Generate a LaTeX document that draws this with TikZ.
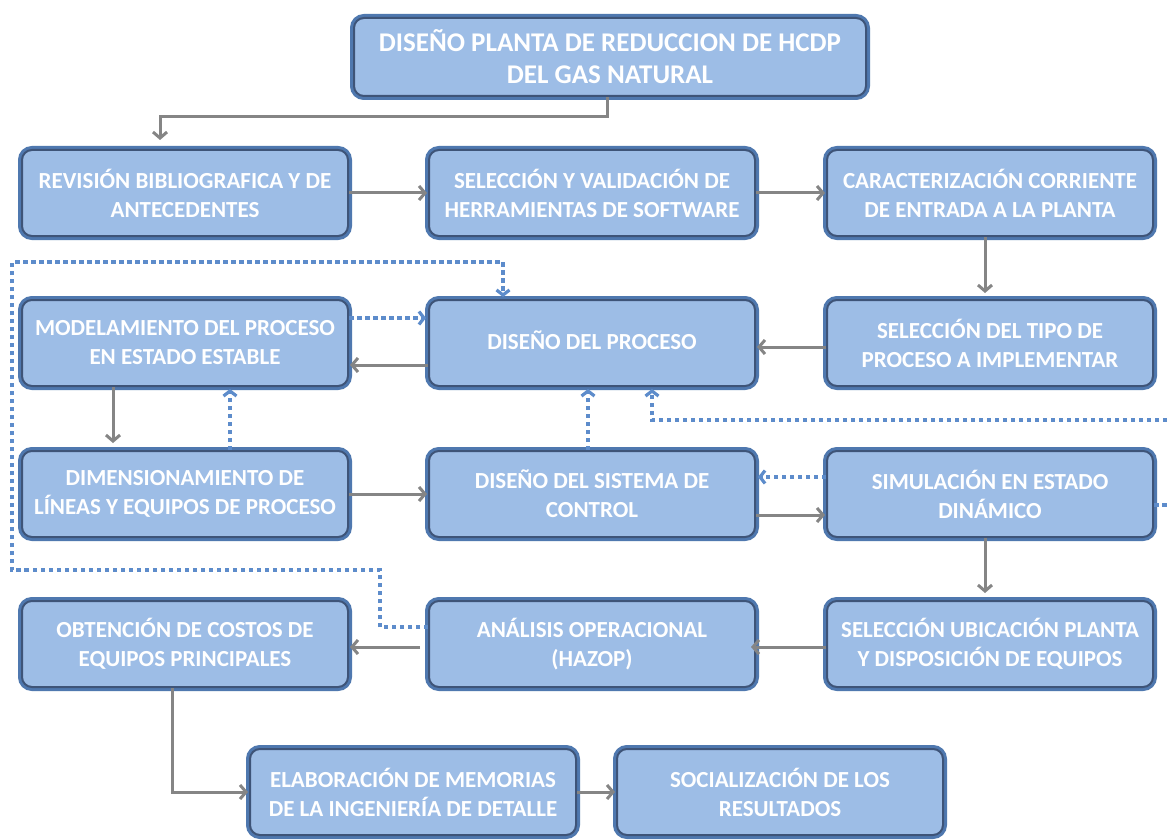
\documentclass[tikz,border=0pt]{standalone}
\usepackage{fontspec}
\setsansfont{Carlito}
\usetikzlibrary{arrows.meta, calc}
\definecolor{boxfill}{HTML}{9DBDE6}
\definecolor{boxline}{HTML}{4F78AF}
\definecolor{boxdark}{HTML}{3E5478}
\definecolor{flowgray}{HTML}{858585}
\definecolor{loopblue}{HTML}{5D8CCB}
\begin{document}
\begin{tikzpicture}[x=1pt, y=-1pt, semithick]
    \tikzset{stage/.style={rectangle, rounded corners=10pt, fill=boxfill, preaction={draw=boxline, line width=8pt}, draw=boxdark, line width=2pt, minimum width=326pt, minimum height=86pt, align=center, text=white, font=\sffamily\bfseries\fontsize{23}{29}\selectfont},
        flow/.style={draw=flowgray, line width=3pt, -{Straight Barb[length=6pt, width=14pt]}, shorten >=1pt},
        loop/.style={draw=loopblue, line width=3.2pt, dash pattern=on 4.5pt off 3.5pt, -{Straight Barb[length=5pt, width=13pt]}, shorten >=2pt}};
    \useasboundingbox[fill=white] (0,0) rectangle (1168,840);
    \node[stage, minimum width=512pt, minimum height=78pt, font=\sffamily\bfseries\fontsize{27}{32}\selectfont] (planta) at (610,57) {DISEÑO PLANTA DE REDUCCION DE HCDP\\DEL GAS NATURAL};
    \node[stage] (revision) at (185,193) {REVISIÓN BIBLIOGRAFICA Y DE\\ANTECEDENTES};
    \node[stage] (software) at (592,193) {SELECCIÓN Y VALIDACIÓN DE\\HERRAMIENTAS DE SOFTWARE};
    \node[stage] (corriente) at (990,193) {CARACTERIZACIÓN CORRIENTE\\DE ENTRADA A LA PLANTA};
    \node[stage] (modelo) at (185,343) {MODELAMIENTO DEL PROCESO\\EN ESTADO ESTABLE};
    \node[stage] (diseno) at (592,343) {\raisebox{6pt}{DISEÑO DEL PROCESO}};
    \node[stage] (tipo) at (990,343) {SELECCIÓN DEL TIPO DE\\PROCESO A IMPLEMENTAR};
    \node[stage] (lineas) at (185,494) {DIMENSIONAMIENTO DE\\LÍNEAS Y EQUIPOS DE PROCESO};
    \node[stage] (control) at (592,494) {DISEÑO DEL SISTEMA DE\\CONTROL};
    \node[stage] (dinamico) at (990,494) {SIMULACIÓN EN ESTADO\\DINÁMICO};
    \node[stage] (costos) at (185,644) {OBTENCIÓN DE COSTOS DE\\EQUIPOS PRINCIPALES};
    \node[stage] (hazop) at (592,644) {ANÁLISIS OPERACIONAL\\(HAZOP)};
    \node[stage] (ubicacion) at (990,644) {SELECCIÓN UBICACIÓN PLANTA\\Y DISPOSICIÓN DE EQUIPOS};
    \node[stage] (memorias) at (413,792) {ELABORACIÓN DE MEMORIAS\\DE LA INGENIERÍA DE DETALLE};
    \node[stage] (social) at (780,792) {SOCIALIZACIÓN DE LOS\\RESULTADOS};
    \coordinate (turn) at (1190,420);
    \draw[flow] ([xshift=-3pt]planta.south) -- ++(0,20) -| ([xshift=-25pt, yshift=8pt]revision.north);
    \draw[flow] (revision) -- (software);
    \draw[flow] (software) -- (corriente);
    \draw[flow] ([xshift=-5pt]corriente.south) -- ([xshift=-5pt, yshift=5pt]tipo.north);
    \draw[flow] ([yshift=-4pt]tipo.west) -- ([yshift=-4pt]diseno.east);
    \draw[flow] ([yshift=-22pt]diseno.west) -- ([yshift=-22pt]modelo.east);
    \draw[loop] ([yshift=25pt]modelo.east) -- ([yshift=25pt]diseno.west);
    \draw[flow] ([xshift=-72pt]modelo.south) -- ([xshift=-72pt, yshift=6pt]lineas.north);
    \draw[loop] ([xshift=45pt]lineas.north) -- ([xshift=45pt]modelo.south);
    \draw[flow] (lineas) -- (control);
    \draw[loop] ([xshift=-4pt]control.north) -- ([xshift=-4pt]diseno.south);
    \draw[flow] ([yshift=-21pt]control.east) -- ([yshift=-21pt]dinamico.west);
    \draw[loop] ([yshift=17pt]dinamico.west) -- ([yshift=17pt]control.east);
    \draw[loop] ([yshift=-11pt]dinamico.east) -| (turn) -| ([xshift=60pt]diseno.south);
    \draw[flow] ([xshift=-5pt]dinamico.south) -- ([xshift=-5pt, yshift=6pt]ubicacion.north);
    \draw[flow] ([yshift=-3pt]ubicacion.west) -- ([yshift=-3pt, xshift=-6pt]hazop.east);
    \draw[flow] ([yshift=-3pt, xshift=-8pt]hazop.west) -- ([yshift=-3pt]costos.east);
    \draw[loop] ([yshift=17pt]hazop.west) -- ++(-48,0) |- (12,570) |- (503,262) -- ([xshift=-89pt]diseno.north);
    \draw[flow] ([xshift=-13pt]costos.south) |- (memorias.west);
    \draw[flow] (memorias) -- (social);
\end{tikzpicture}
\end{document}
